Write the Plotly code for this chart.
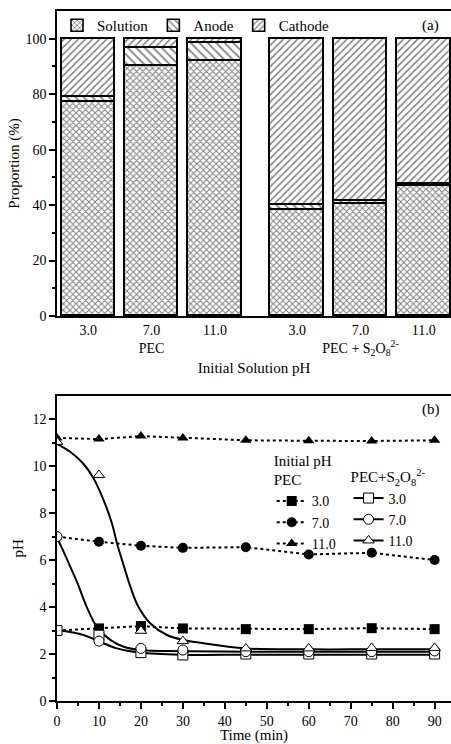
import plotly.graph_objects as go

# ---------------- Panel (a) data ----------------
bar_pos = [1, 2, 3, 4.3, 5.3, 6.3]
bar_ticktext = ["3.0", "7.0<br>PEC", "11.0", "3.0",
                "7.0<br>PEC + S<sub>2</sub>O<sub>8</sub><sup>2-</sup>", "11.0"]
solution = [77.0, 90.0, 91.8, 38.2, 40.3, 47.0]
anode = [2.0, 6.8, 6.5, 1.8, 1.2, 0.6]
cathode = [21.0, 3.2, 1.7, 60.0, 58.5, 52.4]

# ---------------- Panel (b) data ----------------
time = [0, 10, 20, 30, 45, 60, 75, 90]
pec_3 = [3.0, 3.09, 3.19, 3.09, 3.06, 3.06, 3.1, 3.06]
pec_7 = [7.0, 6.78, 6.61, 6.52, 6.55, 6.24, 6.31, 6.0]
pec_11 = [11.2, 11.15, 11.28, 11.2, 11.1, 11.08, 11.07, 11.1]
ps_3 = [3.0, 2.8, 2.06, 1.96, 2.0, 2.0, 2.0, 2.0]
ps_7 = [7.0, 2.55, 2.24, 2.17, 2.1, 2.1, 2.1, 2.13]
ps_11 = [11.03, 9.62, 2.99, 2.55, 2.24, 2.24, 2.26, 2.26]

# fitted curves
fit_t3 = [0, 6.3, 10.3, 14.3, 19.8, 30, 45, 60, 75, 90]
fit_y3 = [3.02, 2.81, 2.52, 2.24, 2.06, 1.97, 1.97, 1.97, 1.97, 1.97]
fit_t7 = [0, 1.6, 3.2, 4.8, 7.1, 9.5, 12.7, 15.9, 19.8, 30, 45, 60, 75, 90]
fit_y7 = [6.95, 6.35, 5.7, 5.05, 4.0, 3.16, 2.6, 2.31, 2.17, 2.12, 2.1, 2.1, 2.1, 2.1]
fit_t11 = [0, 3.2, 6.3, 8.7, 11.1, 13.1, 14.3, 15.5, 17.5, 19.4, 22.2, 26.2, 30.1, 34.1, 45, 60, 75, 90]
fit_y11 = [10.95, 10.6, 10.1, 9.48, 8.55, 7.56, 6.71, 6.0, 4.86, 4.01, 3.31, 2.81, 2.6, 2.48, 2.24, 2.2, 2.2, 2.2]

FONT = "Liberation Serif"

fig = go.Figure()

layers = [("Solution", solution, "x", 4.5, 0.4), ("Anode", anode, "\\", 6, 0.3), ("Cathode", cathode, "/", 5, 0.3)]
for name, vals, shape, sz, sol in layers:
    fig.add_trace(go.Bar(
        x=bar_pos, y=vals, name=name, width=0.845,
        marker=dict(color="white", line=dict(color="black", width=1.6),
                    pattern=dict(shape=shape, fgcolor="black", bgcolor="white", size=sz, solidity=sol)),
        xaxis="x", yaxis="y", legend="legend"))

# fitted curves
for ft, fy in [(fit_t3, fit_y3), (fit_t7, fit_y7), (fit_t11, fit_y11)]:
    fig.add_trace(go.Scatter(x=ft, y=fy, mode="lines", line=dict(color="black", width=2, shape="spline"),
                             showlegend=False, xaxis="x2", yaxis="y2", hoverinfo="skip"))

# PEC series (filled, dotted)
for vals, sym, lab in [(pec_3, "square", "3.0"), (pec_7, "circle", "7.0"), (pec_11, "triangle-up", "11.0")]:
    fig.add_trace(go.Scatter(x=time, y=vals, mode="lines+markers", name=lab,
                             line=dict(color="black", width=2, dash="dot"),
                             marker=dict(symbol=sym, size=10, color="black"),
                             xaxis="x2", yaxis="y2", legend="legend2"))

# PEC + S2O8 series (open markers)
for vals, sym, lab in [(ps_3, "square", "3.0"), (ps_7, "circle", "7.0"), (ps_11, "triangle-up", "11.0")]:
    fig.add_trace(go.Scatter(x=time, y=vals, mode="markers", name=lab, showlegend=False,
                             marker=dict(symbol=sym, size=10, color="white", line=dict(color="black", width=1)),
                             xaxis="x2", yaxis="y2"))
    fig.add_trace(go.Scatter(x=[None], y=[None], mode="lines+markers", name=lab,
                             line=dict(color="black", width=2),
                             marker=dict(symbol=sym, size=10, color="white", line=dict(color="black", width=1)),
                             xaxis="x2", yaxis="y2", legend="legend3"))

axis_common = dict(showline=True, linecolor="black", linewidth=1.5, showgrid=False, zeroline=False,
                   tickfont=dict(family=FONT, size=14, color="black"))

fig.update_layout(
    width=451, height=744,
    margin=dict(l=57, r=0, t=11, b=43, autoexpand=False),
    plot_bgcolor="white", paper_bgcolor="white",
    barmode="stack", bargap=0,
    font=dict(family=FONT, size=14, color="black"),
    xaxis=dict(domain=[0, 1], anchor="y", range=[0.506, 6.73], tickmode="array", tickvals=bar_pos,
               ticktext=bar_ticktext, ticks="", mirror=True, automargin=False,
               title=dict(text="Initial Solution pH", font=dict(family=FONT, size=15), standoff=6),
               **axis_common),
    yaxis=dict(domain=[0.558, 1], anchor="x", range=[0, 110], tickmode="linear", tick0=0, dtick=20,
               ticks="outside", ticklen=6, tickwidth=1.5, tickcolor="black", automargin=False,
               minor=dict(ticks="outside", ticklen=3, tickwidth=1.5, tickcolor="black",
                          tickmode="array", tickvals=[10, 30, 50, 70, 90]),
               title=dict(text="Proportion (%)", font=dict(family=FONT, size=15), standoff=2),
               **axis_common),
    xaxis2=dict(domain=[0, 1], anchor="y2", range=[0, 93.9], tickmode="linear", tick0=0, dtick=10,
                ticks="outside", ticklen=6, tickwidth=1.5, tickcolor="black", mirror=True, automargin=False,
                minor=dict(ticks="outside", ticklen=3, tickwidth=1.5, tickcolor="black",
                           tickmode="array", tickvals=[5, 15, 25, 35, 45, 55, 65, 75, 85]),
                title=dict(text="Time (min)", font=dict(family=FONT, size=15), standoff=9),
                **axis_common),
    yaxis2=dict(domain=[0, 0.4425], anchor="x2", range=[0, 13], tickmode="linear", tick0=0, dtick=2,
                ticks="outside", ticklen=6, tickwidth=1.5, tickcolor="black", automargin=False,
                minor=dict(ticks="outside", ticklen=3, tickwidth=1.5, tickcolor="black",
                           tickmode="array", tickvals=[1, 3, 5, 7, 9, 11]),
                title=dict(text="pH", font=dict(family=FONT, size=15), standoff=5),
                **axis_common),
    legend=dict(orientation="h", x=0.0, y=1.003, xanchor="left", yanchor="top",
                bgcolor="rgba(0,0,0,0)", font=dict(family=FONT, size=15), itemwidth=30,
                traceorder="normal"),
    legend2=dict(orientation="v", x=0.545, y=0.369, xanchor="left", yanchor="top",
                 bgcolor="rgba(0,0,0,0)", font=dict(family=FONT, size=14), itemwidth=30,
                 title=dict(text="Initial pH<br>PEC", font=dict(family=FONT, size=15)),
                 tracegroupgap=0),
    legend3=dict(orientation="v", x=0.74, y=0.345, xanchor="left", yanchor="top",
                 bgcolor="rgba(0,0,0,0)", font=dict(family=FONT, size=14), itemwidth=30,
                 title=dict(text="PEC+S<sub>2</sub>O<sub>8</sub><sup>2-</sup>", font=dict(family=FONT, size=15)),
                 tracegroupgap=0),
    annotations=[
        dict(text="(a)", x=0.975, y=0.994, xref="paper", yref="paper", showarrow=False,
             font=dict(family=FONT, size=15)),
        dict(text="(b)", x=0.978, y=0.422, xref="paper", yref="paper", showarrow=False,
             font=dict(family=FONT, size=15)),
    ],
)

fig.write_html("out.html")
